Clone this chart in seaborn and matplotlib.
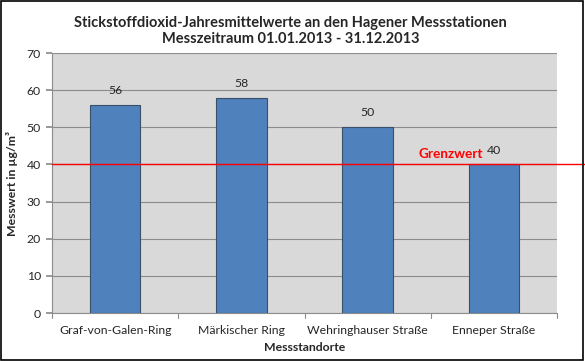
import matplotlib
matplotlib.use("Agg")
import matplotlib.pyplot as plt
import seaborn as sns
import pandas as pd
from matplotlib.patches import Rectangle

stations = ["Graf-von-Galen-Ring", "Märkischer Ring", "Wehringhauser Straße", "Enneper Straße"]
values = [56, 58, 50, 40]
limit_value = 40
yticks = [0, 10, 20, 30, 40, 50, 60, 70]

sns.set_theme(style="white")
plt.rcParams['font.family'] = ['Lato', 'DejaVu Sans']

df = pd.DataFrame({"Station": stations, "Wert": values})

W, H = 585, 361
L, R, T, B = 52, 557, 53, 313
fig = plt.figure(figsize=(W/100, H/100), dpi=100)
ax = fig.add_axes([L/W, 1-B/H, (R-L)/W, (B-T)/H])
ax.set_facecolor("#D9D9D9")

sns.barplot(data=df, x="Station", y="Wert", ax=ax, color="#4F81BD",
            width=0.4, edgecolor="#3A4F6A", linewidth=0.8, saturation=1, zorder=3)

ax.set_ylim(0, 70)
ax.set_xlim(-0.5, len(stations) - 0.5)
ax.set_yticks(yticks)
ax.yaxis.grid(True, color="#8C8C8C", linewidth=0.8, zorder=0)
ax.set_axisbelow(True)

for i, v in enumerate(values):
    ax.text(i, v + 2.4, str(v), ha="center", va="bottom", fontsize=8.8, color="#262626", zorder=5)

ax.set_xticks(range(len(stations)))
ax.set_xticklabels(stations, fontsize=8.8, color="#262626")
ax.tick_params(axis="x", length=0, pad=9)
ax.tick_params(axis="y", labelsize=8.8, labelcolor="#262626", length=4, color="#8C8C8C", left=True, pad=4)
for b in [-0.5, 0.5, 1.5, 2.5, 3.5]:
    ax.plot([b, b], [0, -1.3], color="#8C8C8C", lw=0.8, clip_on=False)

for s in ["top", "right"]:
    ax.spines[s].set_visible(False)
for s in ["left", "bottom"]:
    ax.spines[s].set_color("#8C8C8C")
    ax.spines[s].set_linewidth(0.8)

ax.set_xlabel("Messstandorte", fontsize=8.8, fontweight="bold", labelpad=4)
ax.set_ylabel("Messwert in µg/m³", fontsize=8.8, fontweight="bold", labelpad=6)

# limit line extending to the figure edge
ax.axhline(limit_value, xmin=0, xmax=(W-L)/(R-L), color="#FF0000", lw=1.0, clip_on=False, zorder=6)
ax.text(2.91, limit_value + 1.2, "Grenzwert", color="#FF0000", fontsize=9.8, fontweight="bold",
        ha="right", va="bottom", zorder=6)

fig.text(290.5/W, 1-31/H, "Stickstoffdioxid-Jahresmittelwerte an den Hagener Messstationen\nMesszeitraum 01.01.2013 - 31.12.2013",
         ha="center", va="center", fontsize=10.5, fontweight="bold", linespacing=1.2)

fig.patches.append(Rectangle((0.002, 0.003), 0.995, 0.994, transform=fig.transFigure,
                             fill=False, edgecolor="black", lw=1.2))

fig.savefig("out.png", dpi=100)
